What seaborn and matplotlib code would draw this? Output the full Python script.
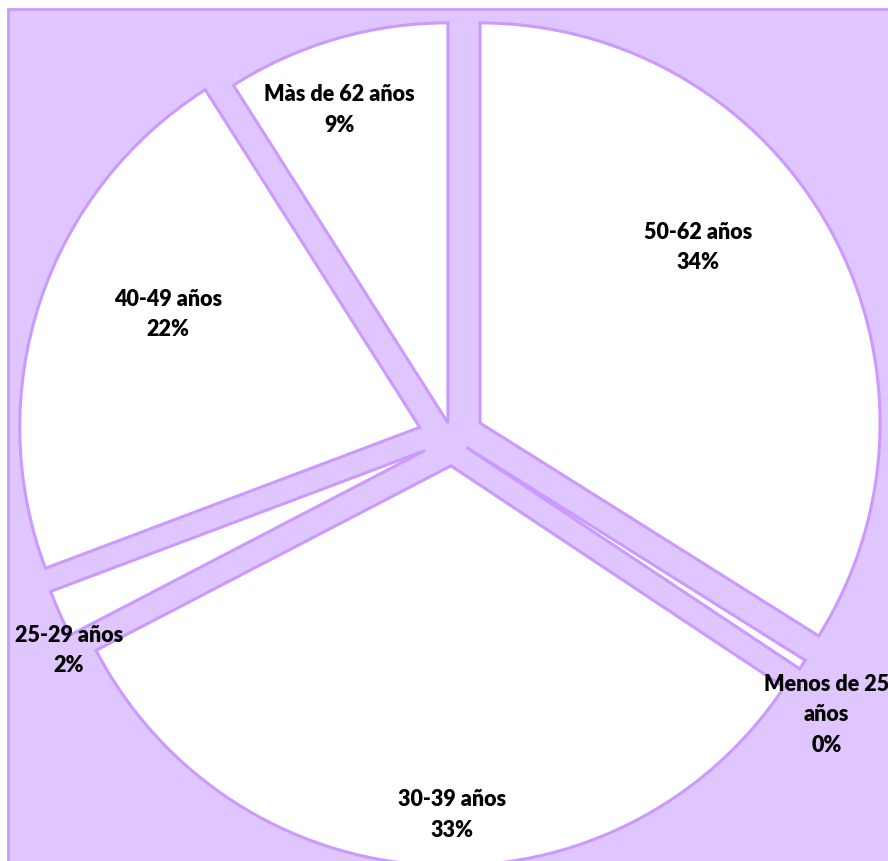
import numpy as np
import matplotlib
matplotlib.use('Agg')
import matplotlib.pyplot as plt
import seaborn as sns
from matplotlib.patches import Rectangle

# Data (share of each age group, %), clockwise from 12 o'clock
categories = ['50-62 años', 'Menos de 25\naños', '30-39 años', '25-29 años', '40-49 años', 'Màs de 62 años']
shares = [33.9, 0.4, 33.0, 1.9, 21.7, 9.0]

# Styling: how far each slice is pulled out and where its label sits
explode = [0.079, 0.042, 0.069, 0.075, 0.086, 0.040]
label_angle = [39.0, -36.5, -89.8, 209.2, 155.7, 109.1]
label_dist = [0.70, 1.12, 0.87, 1.02, 0.69, 0.83]

bg_color = '#E0C6FF'
edge_color = '#CC99FF'

sns.set_style('white')
plt.rcParams['font.family'] = ['Lato', 'DejaVu Sans']

fig = plt.figure(figsize=(8.88, 8.62), dpi=100)

# Plot area background with its purple border
fig.patches.append(Rectangle((8 / 888, -0.05), 1.05, (862 - 10) / 862 + 0.05,
                             transform=fig.transFigure, facecolor=bg_color,
                             edgecolor=edge_color, linewidth=2, zorder=0))

ax = fig.add_axes([0, 0, 1, 1])
ax.set_facecolor('none')
ax.set_zorder(2)

wedges, _ = ax.pie(shares, explode=explode, startangle=90, counterclock=False,
                   colors=['white'] * len(shares),
                   wedgeprops=dict(edgecolor=edge_color, linewidth=2.2))

# Labels: category name and rounded percentage
for w, lab, share, ang, d in zip(wedges, categories, shares, label_angle, label_dist):
    cx, cy = w.center
    a = np.deg2rad(ang)
    ax.text(cx + d * w.r * np.cos(a), cy + d * w.r * np.sin(a),
            f'{lab}\n{share:.0f}%', ha='center', va='center',
            fontsize=15.5, fontweight='heavy', linespacing=1.55, color='black')

ax.set_xlim(-1.131, 1.089)
ax.set_ylim(-1.0568, 1.098)
ax.set_aspect('auto')
ax.axis('off')

plt.savefig('out.png', dpi=100)
